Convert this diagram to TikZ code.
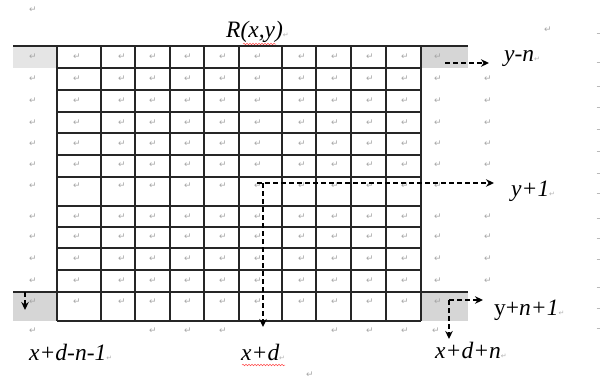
\documentclass[tikz,border=0pt]{standalone}
\usepackage{fontspec}
\setmainfont{Liberation Serif}
\newfontfamily\symfont{DejaVu Sans}
\usetikzlibrary{arrows.meta,decorations.pathmorphing}
\newcommand{\retmk}{{\symfont\color{gray!60}\fontsize{7}{7}\selectfont ↵}}
\tikzset{
  gridline/.style={line width=1.1pt, draw=black!85},
  dasharrow/.style={line width=1.3pt, dash pattern=on 5pt off 3pt, -{Stealth[length=8pt,width=7.5pt]}},
  lbl/.style={font=\fontsize{23.5}{23.5}\selectfont\itshape, inner sep=0pt, anchor=west},
  ret/.style={font=\symfont\fontsize{9}{9}\selectfont, text=gray!70, inner sep=0pt},
  wavy/.style={draw=red!70, line width=0.5pt, decorate, decoration={snake, segment length=3pt, amplitude=0.8pt}},
  cellA/.style={fill=gray!20},
  cellB/.style={fill=gray!32}
}
\begin{document}
\begin{tikzpicture}[x=1pt,y=-1pt]
\useasboundingbox (0,0) rectangle (610,381);
% shaded cells
\fill[cellA] (13,46) rectangle (57,68);
\fill[cellB] (421,46) rectangle (468,68);
\fill[cellB] (13,292) rectangle (57,321);
\fill[cellB] (421,292) rectangle (468,321);
% grid
\foreach \x in {57,101,135,170,204,239,282,316,351,386,421}
  \draw[gridline] (\x,46) -- (\x,321);
\foreach \y in {68,90,112,133,155,177,206,227,248,270}
  \draw[gridline] (57,\y) -- (421,\y);
\draw[gridline] (13,46) -- (468,46);
\draw[gridline] (13,292) -- (468,292);
\draw[gridline] (57,321) -- (421,321);
% paragraph marks
\foreach \y in {57,79,101,123,144,165,186,217,237,259,281,302}
  \foreach \x in {33,77,122,153,188,223,258,302,335,370,405,438}
    \node[ret] (m-\x-\y) at (\x,\y) {↵};
\foreach \y in {79,101,123,144,165,217,237,259,281}
  \node[ret] (e-\y) at (488,\y) {↵};
\foreach \x in {33,153,188,223,335,370,405,436}
  \node[ret] (b-\x) at (\x,331) {↵};
\node[ret] (k1) at (33,10) {↵};
\node[ret] (k2) at (548,30) {↵};
\node[ret] (k3) at (310,375) {↵};
\foreach \y in {33,62,86,107,129,151,173,193,218,238,259,287,308,328}
  \draw[gray!55, line width=0.7pt] (596.5,\y) -- (599.5,\y);
% labels
\node[lbl] (R) at (226,32) {R(x,y)\retmk};
\node[lbl] (yn) at (504,58) {y-n\retmk};
\node[lbl] (y1) at (511,191) {y+1\retmk};
\node[lbl] (ynn) at (494,310) {\upshape y+\itshape n+1\retmk};
\node[lbl] (xdn1) at (29,352) {x+d-n-1\retmk};
\node[lbl] (xd) at (241,352) {x+d\retmk};
\node[lbl] (xdn) at (435,350) {x+d+n\retmk};
\draw[wavy] (243,44) -- (276,44);
\draw[wavy] (242,365) -- (285,365);
% arrows
\coordinate (tA) at (445,63); \coordinate (tB) at (489,63);
\coordinate (cH) at (257,183); \coordinate (eH) at (494,183);
\coordinate (cV) at (263,183); \coordinate (eV) at (263,327);
\coordinate (lA) at (25,292); \coordinate (lB) at (25,310);
\coordinate (rC) at (449,300); \coordinate (rH) at (483,300); \coordinate (rV) at (449,339);
\draw[dasharrow] (tA) -- (tB);
\draw[dasharrow] (cH) -- (eH);
\draw[dasharrow] (cV) -- (eV);
\draw[dasharrow] (lA) -- (lB);
\draw[dasharrow] (rC) -- (rH);
\draw[dasharrow] (rC) -- (rV);
\end{tikzpicture}
\end{document}
